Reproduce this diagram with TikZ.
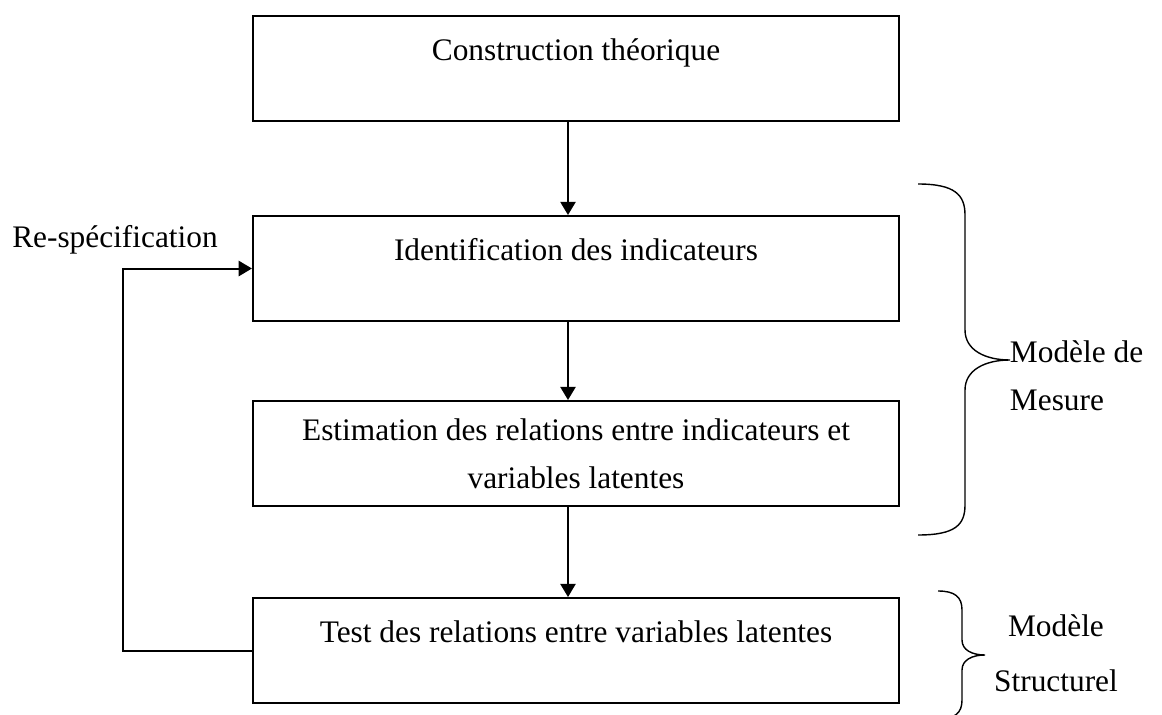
\documentclass[tikz,border=0pt]{standalone}
\usepackage{fontspec}
\setmainfont{Liberation Serif}
\usetikzlibrary{arrows.meta,positioning}

\begin{document}
\begin{tikzpicture}[x=0.025cm, y=-0.025cm, font=\fontsize{22.3}{34}\selectfont,
  box/.style={draw, line width=1.4pt, align=center, minimum width=16.15cm, minimum height=2.625cm, inner sep=0pt},
  toptext/.style={text height=1.1cm, text depth=1.5cm},
  arr/.style={line width=1.4pt, -{Triangle[length=0.33cm, width=0.38cm]}},
  brace/.style={line width=1pt}]
\useasboundingbox (0,0) rectangle (1162,715);
\node[box, toptext, anchor=north] (construct) at (576,15) {Construction théorique};
\node[box, toptext, below=2.325cm of construct] (ident) {Identification des indicateurs};
\node[box, below=1.95cm of ident] (estim) {Estimation des relations entre indicateurs et\\variables latentes};
\node[box, toptext, below=2.25cm of estim] (test) {Test des relations entre variables latentes};
\draw[arr] ([xshift=-0.2cm]construct.south)--([xshift=-0.2cm]ident.north); \draw[arr] ([xshift=-0.2cm]ident.south)--([xshift=-0.2cm]estim.north); \draw[arr] ([xshift=-0.2cm]estim.south)--([xshift=-0.2cm]test.north);
% loop back to the indicators
\coordinate (back) at (123,646);
\node[anchor=base] (respec) at (115,247) {Re-spécification};
\draw[arr] (test.west) -- (test.west -| back) |- (ident.west);
% braces on the right
\draw[brace] (918,184) .. controls (955,184) and (965,195) .. (965,215) -- (965,330) .. controls (965,350) and (985,360) .. (1010,360) .. controls (985,360) and (965,370) .. (965,390) -- (965,505) .. controls (965,525) and (955,535) .. (918,535);
\draw[brace] (938,591) .. controls (955,591) and (962,597) .. (962,610) -- (962,640) .. controls (962,650) and (972,655) .. (985,655) .. controls (972,655) and (962,660) .. (962,670) -- (962,700) .. controls (962,713) and (955,719) .. (938,719);
\node[anchor=west, align=left] (mesure) at (1005,376) {Modèle de\\Mesure};
\node[align=center] (struct) at (1056,653) {Modèle\\[0.175cm]Structurel};
\end{tikzpicture}
\end{document}
